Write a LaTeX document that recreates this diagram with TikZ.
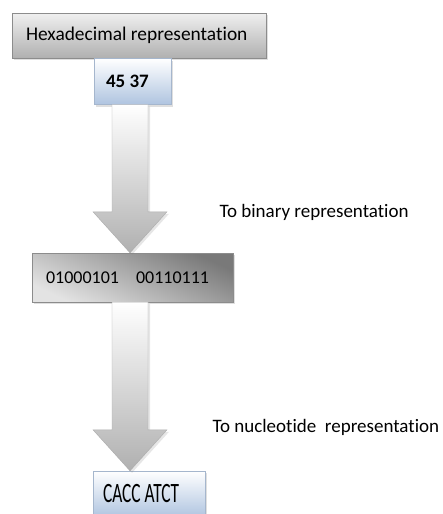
\documentclass[tikz,border=0pt]{standalone}
\usepackage{fontspec}
\setmainfont{Carlito}[Ligatures=CommonOff]
\usetikzlibrary{calc,shadows}

\definecolor{paleblue}{HTML}{AFC4E0}
\definecolor{boxline}{HTML}{8C8C8C}

\begin{document}
\begin{tikzpicture}[
  x=1pt, y=-1pt,
  box/.style={draw=boxline, inner sep=0pt,
    drop shadow={opacity=0.25, shadow xshift=2pt, shadow yshift=-2pt}},
  greybox/.style={box, top color=gray!12, bottom color=gray!62},
  darkbox/.style={box, top color=gray!95!black, bottom color=gray!22, shading angle=-25},
  bluebox/.style={box, draw=paleblue!80!gray, top color=white, bottom color=paleblue},
  blockarrow/.style={draw=gray!65, top color=white, bottom color=gray!62,
    drop shadow={opacity=0.2, shadow xshift=2pt, shadow yshift=-2pt}},
  steplabel/.style={anchor=west, font=\fontsize{19}{23}\selectfont}
]
  \useasboundingbox (0,0) rectangle (442,514);

  % Kästen
  \node[greybox, inner xsep=14pt, minimum height=45pt,
        font=\fontsize{19.4}{23}\selectfont] (hex) at (139,35.5)
        {\makebox[226pt][l]{Hexadecimal representation}};
  \node[bluebox, inner xsep=12pt, minimum height=46pt,
        font=\bfseries\fontsize{19}{23}\selectfont] (val) at (132.5,81.5)
        {\makebox[53pt][l]{45 37}};
  \node[darkbox, inner xsep=14pt, minimum height=49pt,
        font=\fontsize{18}{22}\selectfont] (bin) at (132.5,277.5)
        {\makebox[173pt][l]{01000101\hspace{17pt}00110111}};
  \node[bluebox, inner xsep=10pt, minimum height=46pt,
        font=\fontsize{28}{32}\selectfont] (nuc) at (149,494)
        {\makebox[92pt][l]{\scalebox{0.62}[1]{CACC ATCT}}};

  % Pfeile
  \coordinate (axis) at (130,0);
  \foreach \a/\b in {val/bin, bin/nuc} {
    \path[blockarrow]
      ($(\a.south -| axis)+(-18,0)$) -- ($(\b.north -| axis)+(-18,-41)$)
      -- ($(\b.north -| axis)+(-37,-41)$) -- (\b.north -| axis)
      -- ($(\b.north -| axis)+(37,-41)$) -- ($(\b.north -| axis)+(18,-41)$)
      -- ($(\a.south -| axis)+(18,0)$) -- cycle;
  }

  % Beschriftung
  \node[steplabel] (tobin) at (216,212) {To binary representation};
  \node[steplabel] (tonuc) at (209,427) {To nucleotide\ \ representation};
\end{tikzpicture}
\end{document}
